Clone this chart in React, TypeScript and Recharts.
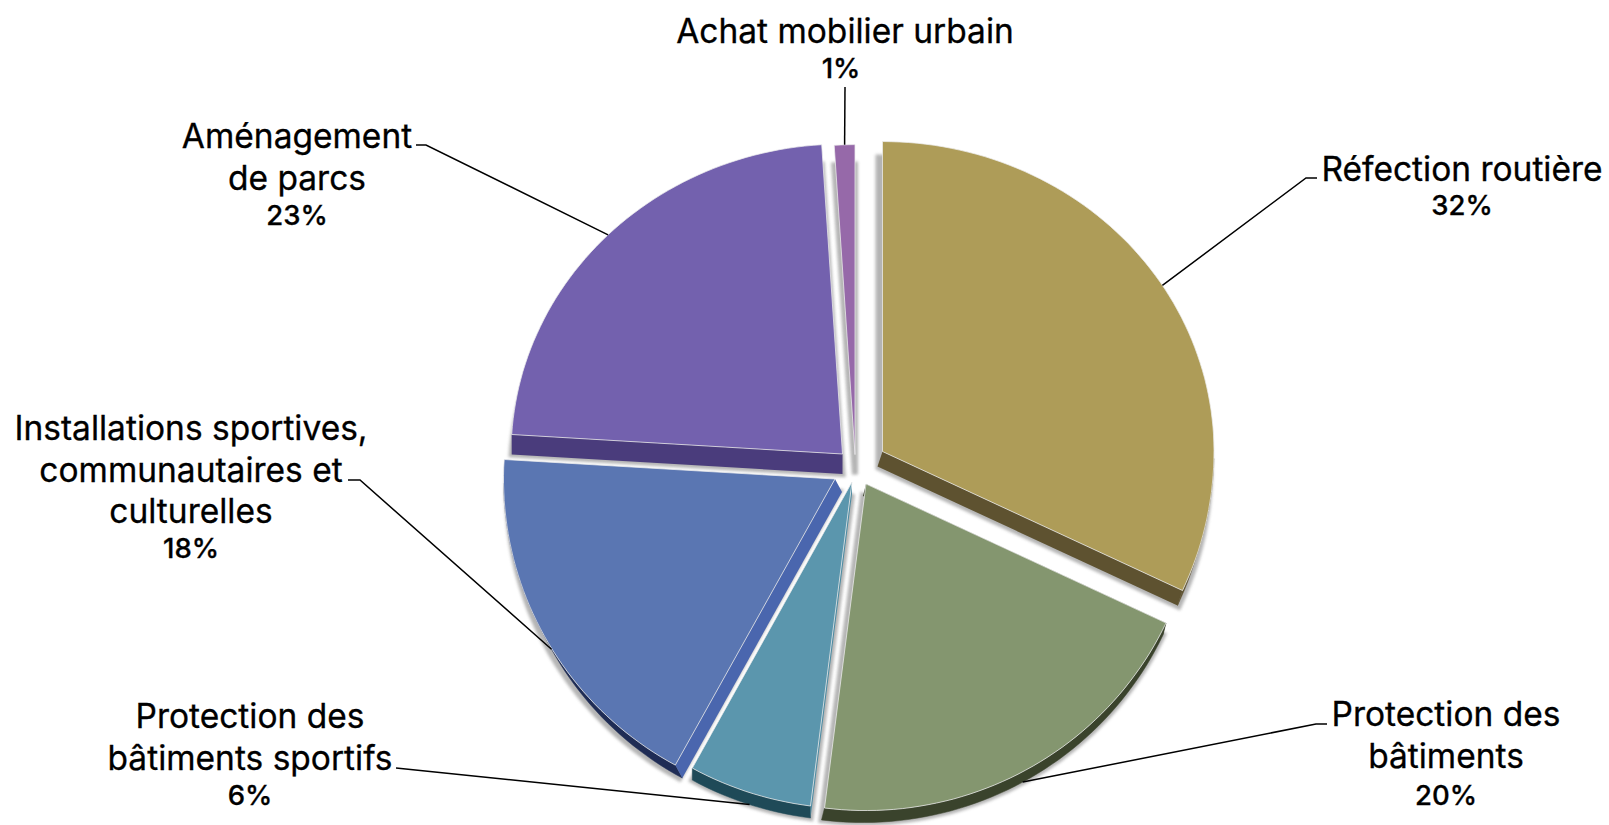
import { Pie, PieChart } from "recharts";

const names = [
  "Réfection routière",
  "Protection des bâtiments",
  "Protection des bâtiments sportifs",
  "Installations sportives, communautaires et culturelles",
  "Aménagement de parcs",
  "Achat mobilier urbain"
];
const values = [32, 20, 6, 18, 23, 1];
const labelLines = [
  ["Réfection routière"],
  ["Protection des", "bâtiments"],
  ["Protection des", "bâtiments sportifs"],
  ["Installations sportives,", "communautaires et", "culturelles"],
  ["Aménagement", "de parcs"],
  ["Achat mobilier urbain"]
];

const data = names.map((name, i) => ({ name, value: values[i] }));

const WIDTH = 1609;
const HEIGHT = 825;
const RADIUS = 331.5;
// the pie is tilted: the far half is squashed a bit more than the near half
const K_TOP = 0.935;
const K_BOTTOM = 0.985;

// look of each slice, in the order of the data
const faceColors = ["#ae9c58", "#84966f", "#5b96ad", "#5a76b2", "#7361ae", "#9669a9"];
const rimColors = ["#5e5230", "#3a432c", "#1f4a58", "#1f2c55", "#4a3c7c", "#7a5590"];
const edgeColors = ["#5e5230", "#3a432c", "#4d8ba2", "#4a66ae", "#4a3c7c", "#7a5590"];
const explode = [
  [30.5, -16.5],
  [14, 16],
  [0, 14],
  [-17, 11],
  [-9.5, -14],
  [3, -13.4]
];
const depth = [
  [-5, 15],
  [-3, 12],
  [0, 12],
  [7, 13],
  [0, 20],
  [0, 20]
];
const shadowShift = [
  [-4, 16],
  [-3, 12],
  [0, 12],
  [4, 13],
  [0, 20],
  [0, 20]
];
// which radial wall faces the viewer: the slice's start edge, or its end edge for the first one
const wallAtEnd = [true, false, false, false, false, false];
const labelCenter = [1462, 1446, 250, 191, 297, 845];
const percentCenter = [1462, 1446, 250, 191, 297, 841];
const firstBaseline = [181, 726, 728, 440, 148, 43];
const percentBaseline = [215, 805, 805, 558, 225, 78];
// where the leader leaves the text, then its small elbow
const leaderStart = [
  [1317, 178],
  [1327, 724],
  [396, 768],
  [348, 480],
  [416, 145],
  [845, 87]
];
const leaderElbow = [
  [1306, 178],
  [1316, 724],
  [396, 768],
  [360, 480],
  [426, 145],
  [845, 87]
];

type P = [number, number];

function onEllipse(cx: number, cy: number, r: number, mathAngle: number): P {
  const t = ((90 - mathAngle) * Math.PI) / 180;
  const c = Math.cos(t);
  return [cx + r * Math.sin(t), cy - r * c * (c > 0 ? K_TOP : K_BOTTOM)];
}

function arcPoints(cx: number, cy: number, r: number, start: number, end: number) {
  const n = Math.max(2, Math.ceil(Math.abs(start - end) / 1.5));
  const pts: P[] = [];
  for (let i = 0; i <= n; i++) pts.push(onEllipse(cx, cy, r, start + ((end - start) * i) / n));
  return pts;
}

const toPath = (pts: P[], close = true) =>
  "M" + pts.map((p) => `${p[0].toFixed(1)},${p[1].toFixed(1)}`).join("L") + (close ? "Z" : "");

const shifted = (pts: P[], d: number[]): P[] => pts.map((p) => [p[0] + d[0], p[1] + d[1]]);

function sliceGeometry(props: any) {
  const i = names.indexOf(props.name);
  const ox = props.cx + explode[i][0];
  const oy = props.cy + explode[i][1];
  const arc = arcPoints(ox, oy, props.outerRadius, props.startAngle, props.endAngle);
  return { i, apex: [ox, oy] as P, arc };
}

// shadow and side walls, drawn under every face
function SideShape(props: any) {
  const { i, apex, arc } = sliceGeometry(props);
  const d = depth[i];
  const edge = wallAtEnd[i] ? arc[arc.length - 1] : arc[0];
  const near = arc.filter((p) => p[1] > apex[1]);
  const wall = [...near, ...shifted(near, d).reverse()];
  const quad = [apex, edge, [edge[0] + d[0], edge[1] + d[1]] as P, [apex[0] + d[0], apex[1] + d[1]] as P];
  const outline = [apex, ...arc];
  return (
    <g>
      <path
        d={toPath(shifted(outline, shadowShift[i]))}
        fill="#9c9c9c"
        stroke="#9c9c9c"
        strokeWidth={6}
        opacity={0.75}
        style={{ filter: "blur(1.5px)" }}
      />
      {i !== 5 && (
        <g>
          {near.length > 1 && <path d={toPath(wall)} fill={rimColors[i]} stroke={rimColors[i]} strokeWidth={0.5} />}
          <path d={toPath(quad)} fill={edgeColors[i]} />
        </g>
      )}
    </g>
  );
}

function FaceShape(props: any) {
  const { i, apex, arc } = sliceGeometry(props);
  return (
    <path
      d={toPath([apex, ...arc])}
      fill={faceColors[i]}
      stroke="#eeeeee"
      strokeOpacity={0.75}
      strokeWidth={1}
    />
  );
}

function SliceLabel(props: any) {
  const i = names.indexOf(props.name);
  return (
    <text textAnchor="middle" fill="#000000" fontFamily="Inter" stroke="#000000" strokeWidth={0.3}>
      {labelLines[i].map((line, k) => (
        <tspan key={k} x={labelCenter[i]} y={firstBaseline[i] + k * 41.5} fontSize={33.5}>
          {line}
        </tspan>
      ))}
      <tspan x={percentCenter[i]} y={percentBaseline[i]} fontSize={27.5} fontWeight={500}>
        {`${values[i]}%`}
      </tspan>
    </text>
  );
}

function SliceLeader(props: any) {
  const i = names.indexOf(props.name);
  const [x, y] = onEllipse(props.cx + explode[i][0], props.cy + explode[i][1], props.outerRadius, props.midAngle);
  const nearSide = i >= 1 && i <= 3;
  const end: P = nearSide ? [x + depth[i][0], y + depth[i][1]] : [x, y];
  return (
    <path
      d={toPath([leaderStart[i] as P, leaderElbow[i] as P, end], false)}
      fill="none"
      stroke="#000000"
      strokeWidth={1.5}
    />
  );
}

export default function App() {
  return (
    <div style={{ position: "absolute", left: 0, top: 0, width: WIDTH, height: HEIGHT, background: "#ffffff" }}>
      <PieChart width={WIDTH} height={HEIGHT} margin={{ top: 0, right: 0, bottom: 0, left: 0 }}>
        <Pie
          data={data}
          dataKey="value"
          nameKey="name"
          cx={852}
          cy={468}
          innerRadius={0}
          outerRadius={RADIUS}
          startAngle={90}
          endAngle={-270}
          stroke="none"
          shape={SideShape}
          isAnimationActive={false}
        />
        <Pie
          data={data}
          dataKey="value"
          nameKey="name"
          cx={852}
          cy={468}
          innerRadius={0}
          outerRadius={RADIUS}
          startAngle={90}
          endAngle={-270}
          stroke="none"
          shape={FaceShape}
          label={SliceLabel}
          labelLine={SliceLeader}
          isAnimationActive={false}
        />
      </PieChart>
    </div>
  );
}
